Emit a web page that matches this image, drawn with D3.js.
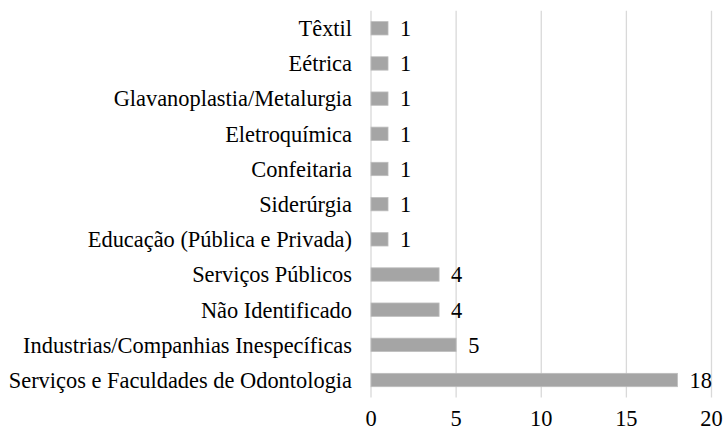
<!DOCTYPE html>
<html><head><meta charset="utf-8">
<script src="https://cdn.jsdelivr.net/npm/d3@7"></script>
<style>body{margin:0;background:#fff}svg{display:block}svg text{font-family:"Liberation Serif","Times New Roman",Times,serif}</style>
</head><body><svg id="c" width="724" height="432"></svg>
<script>
const categories = ["Têxtil","Eétrica","Glavanoplastia/Metalurgia","Eletroquímica","Confeitaria","Siderúrgia","Educação (Pública e Privada)","Serviços Públicos","Não Identificado","Industrias/Companhias Inespecíficas","Serviços e Faculdades de Odontologia"];
const values = [1,1,1,1,1,1,1,4,4,5,18];
const ticks = [0,5,10,15,20];
const FONT = "'Liberation Serif', 'Times New Roman', Times, serif";
const FS = 22.4;

const svg = d3.select("#c");
const x = d3.scaleLinear().domain([0,20]).range([371,711.5]);
const y = d3.scaleBand().domain(categories).range([10.7,397.6]).paddingInner(0.62).paddingOuter(0.31);

svg.append("g").selectAll("line").data(ticks).join("line")
  .attr("x1",d=>x(d)).attr("x2",d=>x(d)).attr("y1",10.7).attr("y2",397.6)
  .attr("stroke","#d9d9d9").attr("stroke-width",1.3);

svg.append("g").selectAll("rect").data(values).join("rect")
  .attr("x",x(0)).attr("y",(d,i)=>y(categories[i]))
  .attr("width",d=>x(d)-x(0)).attr("height",y.bandwidth())
  .attr("fill","#a5a5a5").attr("stroke","#bdbdbd").attr("stroke-width",0.8);

svg.append("g").selectAll("text").data(values).join("text")
  .attr("x",d=>x(d)+12).attr("y",(d,i)=>y(categories[i])+y.bandwidth()/2)
  .attr("dy","0.35em").attr("font-size",FS).style("font-family",FONT).text(d=>d);

svg.append("g").selectAll("text").data(categories).join("text")
  .attr("x",352).attr("y",d=>y(d)+y.bandwidth()/2).attr("dy","0.35em")
  .attr("text-anchor","end").attr("font-size",FS).style("font-family",FONT).text(d=>d);

svg.append("g").selectAll("text").data(ticks).join("text")
  .attr("x",d=>x(d)).attr("y",426).attr("text-anchor","middle").attr("font-size",FS).style("font-family",FONT).text(d=>d);
</script></body></html>
